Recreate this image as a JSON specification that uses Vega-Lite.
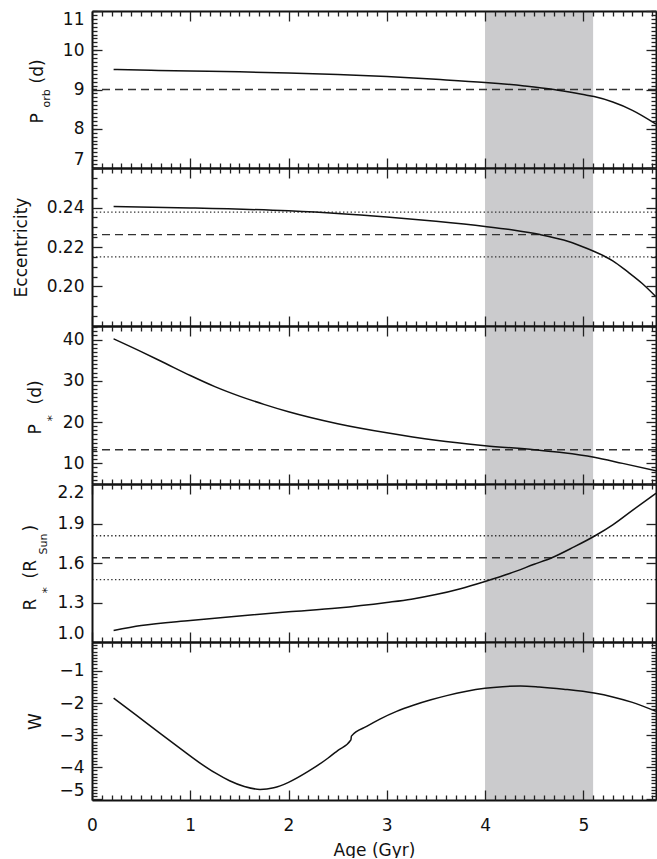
{
  "$schema": "https://vega.github.io/schema/vega-lite/v6.json",
  "padding": {"left": 12, "top": 10, "right": 0, "bottom": 0},
  "bounds": "flush",
  "spacing": 0,
  "config": {
    "view": {"stroke": null},
    "axis": {"grid": false, "labelFont": "DejaVu Sans", "labelFontSize": 17, "labelColor": "#111", "titleFont": "DejaVu Sans", "titleFontSize": 17, "titleFontWeight": "normal", "titleColor": "#111", "tickColor": "#222", "domainColor": "#111", "tickWidth": 1.3, "domainWidth": 2, "labelFlush": false}
  },
  "datasets": {
    "band": [{"s": 4.0, "e": 5.1}],
    "refs": [
      {"p": "porb", "v": 9.0, "k": "dash"},
      {"p": "ecc", "v": 0.2377, "k": "dot"},
      {"p": "ecc", "v": 0.2263, "k": "dash"},
      {"p": "ecc", "v": 0.215, "k": "dot"},
      {"p": "pstar", "v": 13.3, "k": "dash"},
      {"p": "rstar", "v": 1.807, "k": "dot"},
      {"p": "rstar", "v": 1.64, "k": "dash"},
      {"p": "rstar", "v": 1.473, "k": "dot"}
    ],
    "porb": [
      {"a": 0.22, "v": 9.51}, {"a": 0.6, "v": 9.49}, {"a": 1.0, "v": 9.47}, {"a": 1.5, "v": 9.45}, {"a": 2.0, "v": 9.42}, {"a": 2.5, "v": 9.38}, {"a": 3.0, "v": 9.33}, {"a": 3.5, "v": 9.26}, {"a": 4.0, "v": 9.18}, {"a": 4.4, "v": 9.09}, {"a": 4.7, "v": 9.0}, {"a": 5.0, "v": 8.87}, {"a": 5.11, "v": 8.82}, {"a": 5.3, "v": 8.68}, {"a": 5.5, "v": 8.47}, {"a": 5.74, "v": 8.12}
    ],
    "ecc": [
      {"a": 0.22, "v": 0.2405}, {"a": 1.0, "v": 0.2398}, {"a": 2.0, "v": 0.2383}, {"a": 2.5, "v": 0.237}, {"a": 3.0, "v": 0.2352}, {"a": 3.5, "v": 0.233}, {"a": 4.0, "v": 0.2304}, {"a": 4.3, "v": 0.2285}, {"a": 4.56, "v": 0.2263}, {"a": 4.8, "v": 0.2235}, {"a": 5.0, "v": 0.22}, {"a": 5.1, "v": 0.218}, {"a": 5.2, "v": 0.2157}, {"a": 5.3, "v": 0.213}, {"a": 5.45, "v": 0.2075}, {"a": 5.6, "v": 0.2015}, {"a": 5.74, "v": 0.1948}
    ],
    "pstar": [
      {"a": 0.22, "v": 40.2}, {"a": 0.5, "v": 37.1}, {"a": 0.75, "v": 34.2}, {"a": 1.0, "v": 31.3}, {"a": 1.25, "v": 28.6}, {"a": 1.5, "v": 26.3}, {"a": 1.75, "v": 24.3}, {"a": 2.0, "v": 22.5}, {"a": 2.5, "v": 19.6}, {"a": 3.0, "v": 17.4}, {"a": 3.5, "v": 15.6}, {"a": 4.0, "v": 14.3}, {"a": 4.5, "v": 13.3}, {"a": 4.8, "v": 12.6}, {"a": 5.11, "v": 11.5}, {"a": 5.4, "v": 10.0}, {"a": 5.74, "v": 8.2}
    ],
    "rstar": [
      {"a": 0.22, "v": 1.088}, {"a": 0.5, "v": 1.125}, {"a": 1.0, "v": 1.164}, {"a": 1.5, "v": 1.198}, {"a": 2.0, "v": 1.229}, {"a": 2.5, "v": 1.258}, {"a": 3.0, "v": 1.3}, {"a": 3.25, "v": 1.325}, {"a": 3.5, "v": 1.36}, {"a": 3.75, "v": 1.405}, {"a": 4.0, "v": 1.46}, {"a": 4.25, "v": 1.52}, {"a": 4.5, "v": 1.59}, {"a": 4.68, "v": 1.64}, {"a": 4.9, "v": 1.72}, {"a": 5.12, "v": 1.807}, {"a": 5.3, "v": 1.89}, {"a": 5.5, "v": 2.0}, {"a": 5.74, "v": 2.13}
    ],
    "w": [
      {"a": 0.22, "v": -1.85}, {"a": 0.45, "v": -2.38}, {"a": 0.69, "v": -2.94}, {"a": 0.9, "v": -3.42}, {"a": 1.1, "v": -3.87}, {"a": 1.25, "v": -4.17}, {"a": 1.4, "v": -4.42}, {"a": 1.55, "v": -4.6}, {"a": 1.71, "v": -4.69}, {"a": 1.85, "v": -4.64}, {"a": 2.0, "v": -4.47}, {"a": 2.2, "v": -4.13}, {"a": 2.4, "v": -3.72}, {"a": 2.5, "v": -3.48}, {"a": 2.635, "v": -3.15}, {"a": 2.64, "v": -3.03}, {"a": 2.8, "v": -2.72}, {"a": 2.93, "v": -2.5}, {"a": 3.1, "v": -2.26}, {"a": 3.27, "v": -2.07}, {"a": 3.45, "v": -1.9}, {"a": 3.61, "v": -1.77}, {"a": 3.8, "v": -1.64}, {"a": 4.0, "v": -1.54}, {"a": 4.18, "v": -1.49}, {"a": 4.36, "v": -1.47}, {"a": 4.55, "v": -1.5}, {"a": 4.8, "v": -1.57}, {"a": 5.11, "v": -1.69}, {"a": 5.3, "v": -1.81}, {"a": 5.5, "v": -1.98}, {"a": 5.74, "v": -2.26}
    ]
  },
  "vconcat": [
    {
      "width": 564, "height": 157,
      "data": {"name": "porb"},
      "resolve": {"axis": {"x": "independent", "y": "independent"}},
      "layer": [
        {"data": {"name": "band"}, "mark": {"type": "rect", "color": "#cbcbcd"},
         "encoding": {"x": {"field": "s", "type": "quantitative", "scale": {"domain": [0, 5.74], "nice": false, "zero": false}, "axis": {"orient": "bottom", "ticks": false, "labels": false, "domain": true, "title": null, "zindex": 2}}, "x2": {"field": "e"}}},
        {"data": {"name": "refs"}, "transform": [{"filter": "datum.p == 'porb'"}], "mark": {"type": "rule", "color": "#333", "strokeWidth": 1.3},
         "encoding": {"y": {"field": "v", "type": "quantitative", "scale": {"domain": [7, 11], "nice": false, "zero": false}, "axis": null}, "strokeDash": {"field": "k", "type": "nominal", "scale": {"domain": ["dash", "dot"], "range": [[8, 5], [1.4, 2.4]]}, "legend": null}}},
        {"mark": {"type": "line", "color": "#111", "strokeWidth": 1.5, "clip": true, "interpolate": "monotone"},
         "encoding": {"x": {"field": "a", "type": "quantitative", "scale": {"domain": [0, 5.74], "nice": false, "zero": false}, "axis": {"orient": "top", "ticks": false, "labels": false, "domain": true, "title": null, "zindex": 2}},
                      "y": {"field": "v", "type": "quantitative", "scale": {"domain": [7, 11], "nice": false, "zero": false}, "axis": {"orient": "left", "values": [7, 8, 9, 10, 11], "ticks": false, "tickSize": 0, "domain": true, "zindex": 2, "labelPadding": 8, "labelFlush": 3, "title": "P", "titleAngle": 270, "titleAlign": "left", "titleBaseline": "alphabetic", "titleX": -50, "titleY": 112}}}},
        {"mark": {"type": "line", "opacity": 0},
         "encoding": {"x": {"field": "a", "type": "quantitative", "axis": {"orient": "bottom", "offset": -10, "values": [0, 1, 2, 3, 4, 5], "labels": false, "tickSize": 10, "domain": false, "title": null, "zindex": 2}},
                      "y": {"field": "v", "type": "quantitative", "axis": {"orient": "left", "offset": -10, "values": [7, 8, 9, 10, 11], "labels": false, "tickSize": 10, "domain": false, "title": null, "zindex": 2}}}},
        {"mark": {"type": "line", "opacity": 0},
         "encoding": {"x": {"field": "a", "type": "quantitative", "axis": {"orient": "top", "offset": -10, "values": [0, 1, 2, 3, 4, 5], "labels": false, "tickSize": 10, "domain": false, "title": null, "zindex": 2}},
                      "y": {"field": "v", "type": "quantitative", "axis": {"orient": "left", "offset": -5, "values": [7, 7.1, 7.2, 7.3, 7.4, 7.5, 7.6, 7.7, 7.8, 7.9, 8, 8.1, 8.2, 8.3, 8.4, 8.5, 8.6, 8.7, 8.8, 8.9, 9, 9.1, 9.2, 9.3, 9.4, 9.5, 9.6, 9.7, 9.8, 9.9, 10, 10.1, 10.2, 10.3, 10.4, 10.5, 10.6, 10.7, 10.8, 10.9, 11], "labels": false, "tickSize": 5, "domain": false, "title": null, "zindex": 2}}}},
        {"mark": {"type": "line", "opacity": 0},
         "encoding": {"x": {"field": "a", "type": "quantitative", "axis": {"orient": "bottom", "offset": -5, "values": [0.1, 0.2, 0.3, 0.4, 0.5, 0.6, 0.7, 0.8, 0.9, 1.1, 1.2, 1.3, 1.4, 1.5, 1.6, 1.7, 1.8, 1.9, 2.1, 2.2, 2.3, 2.4, 2.5, 2.6, 2.7, 2.8, 2.9, 3.1, 3.2, 3.3, 3.4, 3.5, 3.6, 3.7, 3.8, 3.9, 4.1, 4.2, 4.3, 4.4, 4.5, 4.6, 4.7, 4.8, 4.9, 5.1, 5.2, 5.3, 5.4, 5.5, 5.6, 5.7], "labels": false, "tickSize": 5, "domain": false, "title": null, "zindex": 2}},
                      "y": {"field": "v", "type": "quantitative", "axis": {"orient": "right", "ticks": false, "labels": false, "domain": true, "title": null, "zindex": 2}}}},
        {"mark": {"type": "line", "opacity": 0},
         "encoding": {"x": {"field": "a", "type": "quantitative", "axis": {"orient": "top", "offset": -5, "values": [0.1, 0.2, 0.3, 0.4, 0.5, 0.6, 0.7, 0.8, 0.9, 1.1, 1.2, 1.3, 1.4, 1.5, 1.6, 1.7, 1.8, 1.9, 2.1, 2.2, 2.3, 2.4, 2.5, 2.6, 2.7, 2.8, 2.9, 3.1, 3.2, 3.3, 3.4, 3.5, 3.6, 3.7, 3.8, 3.9, 4.1, 4.2, 4.3, 4.4, 4.5, 4.6, 4.7, 4.8, 4.9, 5.1, 5.2, 5.3, 5.4, 5.5, 5.6, 5.7], "labels": false, "tickSize": 5, "domain": false, "title": null, "zindex": 2}},
                      "y": {"field": "v", "type": "quantitative", "axis": {"orient": "right", "offset": -10, "values": [7, 8, 9, 10, 11], "labels": false, "tickSize": 10, "domain": false, "title": null, "zindex": 2}}}},
        {"mark": {"type": "line", "opacity": 0},
         "encoding": {"x": {"field": "a", "type": "quantitative", "axis": null},
                      "y": {"field": "v", "type": "quantitative", "axis": {"orient": "right", "offset": -5, "values": [7, 7.1, 7.2, 7.3, 7.4, 7.5, 7.6, 7.7, 7.8, 7.9, 8, 8.1, 8.2, 8.3, 8.4, 8.5, 8.6, 8.7, 8.8, 8.9, 9, 9.1, 9.2, 9.3, 9.4, 9.5, 9.6, 9.7, 9.8, 9.9, 10, 10.1, 10.2, 10.3, 10.4, 10.5, 10.6, 10.7, 10.8, 10.9, 11], "labels": false, "tickSize": 5, "domain": false, "title": null, "zindex": 2}}}},
        {"mark": {"type": "line", "opacity": 0},
         "encoding": {"x": {"field": "a", "type": "quantitative", "axis": null},
                      "y": {"field": "v", "type": "quantitative", "axis": {"orient": "left", "ticks": false, "labels": false, "domain": false, "title": "orb", "titleFontSize": 11, "titleAngle": 270, "titleAlign": "left", "titleBaseline": "alphabetic", "titleX": -43, "titleY": 96}}}},
        {"mark": {"type": "line", "opacity": 0},
         "encoding": {"x": {"field": "a", "type": "quantitative", "axis": null},
                      "y": {"field": "v", "type": "quantitative", "axis": {"orient": "left", "ticks": false, "labels": false, "domain": false, "title": "(d)", "titleAngle": 270, "titleAlign": "left", "titleBaseline": "alphabetic", "titleX": -50, "titleY": 72}}}}
      ]
    },
    {
      "width": 564, "height": 158,
      "data": {"name": "ecc"},
      "resolve": {"axis": {"x": "independent", "y": "independent"}},
      "layer": [
        {"data": {"name": "band"}, "mark": {"type": "rect", "color": "#cbcbcd"},
         "encoding": {"x": {"field": "s", "type": "quantitative", "scale": {"domain": [0, 5.74], "nice": false, "zero": false}, "axis": {"orient": "bottom", "ticks": false, "labels": false, "domain": true, "title": null, "zindex": 2}}, "x2": {"field": "e"}}},
        {"data": {"name": "refs"}, "transform": [{"filter": "datum.p == 'ecc'"}], "mark": {"type": "rule", "color": "#333", "strokeWidth": 1.3},
         "encoding": {"y": {"field": "v", "type": "quantitative", "scale": {"domain": [0.18, 0.26], "nice": false, "zero": false}, "axis": null}, "strokeDash": {"field": "k", "type": "nominal", "scale": {"domain": ["dash", "dot"], "range": [[8, 5], [1.4, 2.4]]}, "legend": null}}},
        {"mark": {"type": "line", "color": "#111", "strokeWidth": 1.5, "clip": true, "interpolate": "monotone"},
         "encoding": {"x": {"field": "a", "type": "quantitative", "scale": {"domain": [0, 5.74], "nice": false, "zero": false}, "axis": {"orient": "top", "ticks": false, "labels": false, "domain": true, "title": null, "zindex": 2}},
                      "y": {"field": "v", "type": "quantitative", "scale": {"domain": [0.18, 0.26], "nice": false, "zero": false}, "axis": {"orient": "left", "values": [0.2, 0.22, 0.24], "format": ".2f", "ticks": false, "tickSize": 0, "domain": true, "zindex": 2, "labelPadding": 8, "title": "Eccentricity", "titleAngle": 270, "titleAlign": "center", "titleBaseline": "alphabetic", "titleX": -66, "titleY": 79}}}},
        {"mark": {"type": "line", "opacity": 0},
         "encoding": {"x": {"field": "a", "type": "quantitative", "axis": {"orient": "bottom", "offset": -10, "values": [0, 1, 2, 3, 4, 5], "labels": false, "tickSize": 10, "domain": false, "title": null, "zindex": 2}},
                      "y": {"field": "v", "type": "quantitative", "axis": {"orient": "left", "offset": -10, "values": [0.18, 0.2, 0.22, 0.24, 0.26], "labels": false, "tickSize": 10, "domain": false, "title": null, "zindex": 2}}}},
        {"mark": {"type": "line", "opacity": 0},
         "encoding": {"x": {"field": "a", "type": "quantitative", "axis": {"orient": "top", "offset": -10, "values": [0, 1, 2, 3, 4, 5], "labels": false, "tickSize": 10, "domain": false, "title": null, "zindex": 2}},
                      "y": {"field": "v", "type": "quantitative", "axis": {"orient": "left", "offset": -5, "values": [0.185, 0.19, 0.195, 0.205, 0.21, 0.215, 0.225, 0.23, 0.235, 0.245, 0.25, 0.255], "labels": false, "tickSize": 5, "domain": false, "title": null, "zindex": 2}}}},
        {"mark": {"type": "line", "opacity": 0},
         "encoding": {"x": {"field": "a", "type": "quantitative", "axis": {"orient": "bottom", "offset": -5, "values": [0.1, 0.2, 0.3, 0.4, 0.5, 0.6, 0.7, 0.8, 0.9, 1.1, 1.2, 1.3, 1.4, 1.5, 1.6, 1.7, 1.8, 1.9, 2.1, 2.2, 2.3, 2.4, 2.5, 2.6, 2.7, 2.8, 2.9, 3.1, 3.2, 3.3, 3.4, 3.5, 3.6, 3.7, 3.8, 3.9, 4.1, 4.2, 4.3, 4.4, 4.5, 4.6, 4.7, 4.8, 4.9, 5.1, 5.2, 5.3, 5.4, 5.5, 5.6, 5.7], "labels": false, "tickSize": 5, "domain": false, "title": null, "zindex": 2}},
                      "y": {"field": "v", "type": "quantitative", "axis": {"orient": "right", "ticks": false, "labels": false, "domain": true, "title": null, "zindex": 2}}}},
        {"mark": {"type": "line", "opacity": 0},
         "encoding": {"x": {"field": "a", "type": "quantitative", "axis": {"orient": "top", "offset": -5, "values": [0.1, 0.2, 0.3, 0.4, 0.5, 0.6, 0.7, 0.8, 0.9, 1.1, 1.2, 1.3, 1.4, 1.5, 1.6, 1.7, 1.8, 1.9, 2.1, 2.2, 2.3, 2.4, 2.5, 2.6, 2.7, 2.8, 2.9, 3.1, 3.2, 3.3, 3.4, 3.5, 3.6, 3.7, 3.8, 3.9, 4.1, 4.2, 4.3, 4.4, 4.5, 4.6, 4.7, 4.8, 4.9, 5.1, 5.2, 5.3, 5.4, 5.5, 5.6, 5.7], "labels": false, "tickSize": 5, "domain": false, "title": null, "zindex": 2}},
                      "y": {"field": "v", "type": "quantitative", "axis": {"orient": "right", "offset": -10, "values": [0.18, 0.2, 0.22, 0.24, 0.26], "labels": false, "tickSize": 10, "domain": false, "title": null, "zindex": 2}}}},
        {"mark": {"type": "line", "opacity": 0},
         "encoding": {"x": {"field": "a", "type": "quantitative", "axis": null},
                      "y": {"field": "v", "type": "quantitative", "axis": {"orient": "right", "offset": -5, "values": [0.185, 0.19, 0.195, 0.205, 0.21, 0.215, 0.225, 0.23, 0.235, 0.245, 0.25, 0.255], "labels": false, "tickSize": 5, "domain": false, "title": null, "zindex": 2}}}}
      ]
    },
    {
      "width": 564, "height": 158,
      "data": {"name": "pstar"},
      "resolve": {"axis": {"x": "independent", "y": "independent"}},
      "layer": [
        {"data": {"name": "band"}, "mark": {"type": "rect", "color": "#cbcbcd"},
         "encoding": {"x": {"field": "s", "type": "quantitative", "scale": {"domain": [0, 5.74], "nice": false, "zero": false}, "axis": {"orient": "bottom", "ticks": false, "labels": false, "domain": true, "title": null, "zindex": 2}}, "x2": {"field": "e"}}},
        {"data": {"name": "refs"}, "transform": [{"filter": "datum.p == 'pstar'"}], "mark": {"type": "rule", "color": "#333", "strokeWidth": 1.3},
         "encoding": {"y": {"field": "v", "type": "quantitative", "scale": {"domain": [5, 43.3], "nice": false, "zero": false}, "axis": null}, "strokeDash": {"field": "k", "type": "nominal", "scale": {"domain": ["dash", "dot"], "range": [[8, 5], [1.4, 2.4]]}, "legend": null}}},
        {"mark": {"type": "line", "color": "#111", "strokeWidth": 1.5, "clip": true, "interpolate": "monotone"},
         "encoding": {"x": {"field": "a", "type": "quantitative", "scale": {"domain": [0, 5.74], "nice": false, "zero": false}, "axis": {"orient": "top", "ticks": false, "labels": false, "domain": true, "title": null, "zindex": 2}},
                      "y": {"field": "v", "type": "quantitative", "scale": {"domain": [5, 43.3], "nice": false, "zero": false}, "axis": {"orient": "left", "values": [10, 20, 30, 40], "ticks": false, "tickSize": 0, "domain": true, "zindex": 2, "labelPadding": 8, "title": "P", "titleAngle": 270, "titleAlign": "left", "titleBaseline": "alphabetic", "titleX": -52, "titleY": 108}}}},
        {"mark": {"type": "line", "opacity": 0},
         "encoding": {"x": {"field": "a", "type": "quantitative", "axis": {"orient": "bottom", "offset": -10, "values": [0, 1, 2, 3, 4, 5], "labels": false, "tickSize": 10, "domain": false, "title": null, "zindex": 2}},
                      "y": {"field": "v", "type": "quantitative", "axis": {"orient": "left", "offset": -10, "values": [10, 20, 30, 40], "labels": false, "tickSize": 10, "domain": false, "title": null, "zindex": 2}}}},
        {"mark": {"type": "line", "opacity": 0},
         "encoding": {"x": {"field": "a", "type": "quantitative", "axis": {"orient": "top", "offset": -10, "values": [0, 1, 2, 3, 4, 5], "labels": false, "tickSize": 10, "domain": false, "title": null, "zindex": 2}},
                      "y": {"field": "v", "type": "quantitative", "axis": {"orient": "left", "offset": -5, "values": [5, 6, 7, 8, 9, 11, 12, 13, 14, 15, 16, 17, 18, 19, 21, 22, 23, 24, 25, 26, 27, 28, 29, 31, 32, 33, 34, 35, 36, 37, 38, 39, 41, 42, 43], "labels": false, "tickSize": 5, "domain": false, "title": null, "zindex": 2}}}},
        {"mark": {"type": "line", "opacity": 0},
         "encoding": {"x": {"field": "a", "type": "quantitative", "axis": {"orient": "bottom", "offset": -5, "values": [0.1, 0.2, 0.3, 0.4, 0.5, 0.6, 0.7, 0.8, 0.9, 1.1, 1.2, 1.3, 1.4, 1.5, 1.6, 1.7, 1.8, 1.9, 2.1, 2.2, 2.3, 2.4, 2.5, 2.6, 2.7, 2.8, 2.9, 3.1, 3.2, 3.3, 3.4, 3.5, 3.6, 3.7, 3.8, 3.9, 4.1, 4.2, 4.3, 4.4, 4.5, 4.6, 4.7, 4.8, 4.9, 5.1, 5.2, 5.3, 5.4, 5.5, 5.6, 5.7], "labels": false, "tickSize": 5, "domain": false, "title": null, "zindex": 2}},
                      "y": {"field": "v", "type": "quantitative", "axis": {"orient": "right", "ticks": false, "labels": false, "domain": true, "title": null, "zindex": 2}}}},
        {"mark": {"type": "line", "opacity": 0},
         "encoding": {"x": {"field": "a", "type": "quantitative", "axis": {"orient": "top", "offset": -5, "values": [0.1, 0.2, 0.3, 0.4, 0.5, 0.6, 0.7, 0.8, 0.9, 1.1, 1.2, 1.3, 1.4, 1.5, 1.6, 1.7, 1.8, 1.9, 2.1, 2.2, 2.3, 2.4, 2.5, 2.6, 2.7, 2.8, 2.9, 3.1, 3.2, 3.3, 3.4, 3.5, 3.6, 3.7, 3.8, 3.9, 4.1, 4.2, 4.3, 4.4, 4.5, 4.6, 4.7, 4.8, 4.9, 5.1, 5.2, 5.3, 5.4, 5.5, 5.6, 5.7], "labels": false, "tickSize": 5, "domain": false, "title": null, "zindex": 2}},
                      "y": {"field": "v", "type": "quantitative", "axis": {"orient": "right", "offset": -10, "values": [10, 20, 30, 40], "labels": false, "tickSize": 10, "domain": false, "title": null, "zindex": 2}}}},
        {"mark": {"type": "line", "opacity": 0},
         "encoding": {"x": {"field": "a", "type": "quantitative", "axis": null},
                      "y": {"field": "v", "type": "quantitative", "axis": {"orient": "right", "offset": -5, "values": [5, 6, 7, 8, 9, 11, 12, 13, 14, 15, 16, 17, 18, 19, 21, 22, 23, 24, 25, 26, 27, 28, 29, 31, 32, 33, 34, 35, 36, 37, 38, 39, 41, 42, 43], "labels": false, "tickSize": 5, "domain": false, "title": null, "zindex": 2}}}},
        {"mark": {"type": "line", "opacity": 0},
         "encoding": {"x": {"field": "a", "type": "quantitative", "axis": null},
                      "y": {"field": "v", "type": "quantitative", "axis": {"orient": "left", "ticks": false, "labels": false, "domain": false, "title": "*", "titleFontSize": 13, "titleAngle": 270, "titleAlign": "left", "titleBaseline": "alphabetic", "titleX": -37, "titleY": 95}}}},
        {"mark": {"type": "line", "opacity": 0},
         "encoding": {"x": {"field": "a", "type": "quantitative", "axis": null},
                      "y": {"field": "v", "type": "quantitative", "axis": {"orient": "left", "ticks": false, "labels": false, "domain": false, "title": "(d)", "titleAngle": 270, "titleAlign": "left", "titleBaseline": "alphabetic", "titleX": -52, "titleY": 78}}}}
      ]
    },
    {
      "width": 564, "height": 158,
      "data": {"name": "rstar"},
      "resolve": {"axis": {"x": "independent", "y": "independent"}},
      "layer": [
        {"data": {"name": "band"}, "mark": {"type": "rect", "color": "#cbcbcd"},
         "encoding": {"x": {"field": "s", "type": "quantitative", "scale": {"domain": [0, 5.74], "nice": false, "zero": false}, "axis": {"orient": "bottom", "ticks": false, "labels": false, "domain": true, "title": null, "zindex": 2}}, "x2": {"field": "e"}}},
        {"data": {"name": "refs"}, "transform": [{"filter": "datum.p == 'rstar'"}], "mark": {"type": "rule", "color": "#333", "strokeWidth": 1.3},
         "encoding": {"y": {"field": "v", "type": "quantitative", "scale": {"domain": [1.0, 2.2], "nice": false, "zero": false}, "axis": {"orient": "left", "ticks": false, "labels": false, "domain": false, "title": ")", "titleAngle": 270, "titleAlign": "left", "titleBaseline": "alphabetic", "titleX": -57, "titleY": 47}}, "strokeDash": {"field": "k", "type": "nominal", "scale": {"domain": ["dash", "dot"], "range": [[8, 5], [1.4, 2.4]]}, "legend": null}}},
        {"mark": {"type": "line", "color": "#111", "strokeWidth": 1.5, "clip": true, "interpolate": "monotone"},
         "encoding": {"x": {"field": "a", "type": "quantitative", "scale": {"domain": [0, 5.74], "nice": false, "zero": false}, "axis": {"orient": "top", "ticks": false, "labels": false, "domain": true, "title": null, "zindex": 2}},
                      "y": {"field": "v", "type": "quantitative", "scale": {"domain": [1.0, 2.2], "nice": false, "zero": false}, "axis": {"orient": "left", "values": [1.0, 1.3, 1.6, 1.9, 2.2], "format": ".1f", "ticks": false, "tickSize": 0, "domain": true, "zindex": 2, "labelPadding": 8, "labelFlush": 3, "title": "R", "titleAngle": 270, "titleAlign": "left", "titleBaseline": "alphabetic", "titleX": -57, "titleY": 126}}}},
        {"mark": {"type": "line", "opacity": 0},
         "encoding": {"x": {"field": "a", "type": "quantitative", "axis": {"orient": "bottom", "offset": -10, "values": [0, 1, 2, 3, 4, 5], "labels": false, "tickSize": 10, "domain": false, "title": null, "zindex": 2}},
                      "y": {"field": "v", "type": "quantitative", "axis": {"orient": "left", "offset": -10, "values": [1.0, 1.3, 1.6, 1.9, 2.2], "labels": false, "tickSize": 10, "domain": false, "title": null, "zindex": 2}}}},
        {"mark": {"type": "line", "opacity": 0},
         "encoding": {"x": {"field": "a", "type": "quantitative", "axis": {"orient": "top", "offset": -10, "values": [0, 1, 2, 3, 4, 5], "labels": false, "tickSize": 10, "domain": false, "title": null, "zindex": 2}},
                      "y": {"field": "v", "type": "quantitative", "axis": {"orient": "left", "ticks": false, "labels": false, "domain": false, "title": "(R", "titleAngle": 270, "titleAlign": "left", "titleBaseline": "alphabetic", "titleX": -57, "titleY": 94}}}},
        {"mark": {"type": "line", "opacity": 0},
         "encoding": {"x": {"field": "a", "type": "quantitative", "axis": {"orient": "bottom", "offset": -5, "values": [0.1, 0.2, 0.3, 0.4, 0.5, 0.6, 0.7, 0.8, 0.9, 1.1, 1.2, 1.3, 1.4, 1.5, 1.6, 1.7, 1.8, 1.9, 2.1, 2.2, 2.3, 2.4, 2.5, 2.6, 2.7, 2.8, 2.9, 3.1, 3.2, 3.3, 3.4, 3.5, 3.6, 3.7, 3.8, 3.9, 4.1, 4.2, 4.3, 4.4, 4.5, 4.6, 4.7, 4.8, 4.9, 5.1, 5.2, 5.3, 5.4, 5.5, 5.6, 5.7], "labels": false, "tickSize": 5, "domain": false, "title": null, "zindex": 2}},
                      "y": {"field": "v", "type": "quantitative", "axis": {"orient": "right", "ticks": false, "labels": false, "domain": true, "title": null, "zindex": 2}}}},
        {"mark": {"type": "line", "opacity": 0},
         "encoding": {"x": {"field": "a", "type": "quantitative", "axis": {"orient": "top", "offset": -5, "values": [0.1, 0.2, 0.3, 0.4, 0.5, 0.6, 0.7, 0.8, 0.9, 1.1, 1.2, 1.3, 1.4, 1.5, 1.6, 1.7, 1.8, 1.9, 2.1, 2.2, 2.3, 2.4, 2.5, 2.6, 2.7, 2.8, 2.9, 3.1, 3.2, 3.3, 3.4, 3.5, 3.6, 3.7, 3.8, 3.9, 4.1, 4.2, 4.3, 4.4, 4.5, 4.6, 4.7, 4.8, 4.9, 5.1, 5.2, 5.3, 5.4, 5.5, 5.6, 5.7], "labels": false, "tickSize": 5, "domain": false, "title": null, "zindex": 2}},
                      "y": {"field": "v", "type": "quantitative", "axis": {"orient": "right", "offset": -10, "values": [1.0, 1.3, 1.6, 1.9, 2.2], "labels": false, "tickSize": 10, "domain": false, "title": null, "zindex": 2}}}},
        {"mark": {"type": "line", "opacity": 0},
         "encoding": {"x": {"field": "a", "type": "quantitative", "axis": null},
                      "y": {"field": "v", "type": "quantitative", "axis": {"orient": "left", "ticks": false, "labels": false, "domain": false, "title": "Sun", "titleFontSize": 11, "titleAngle": 270, "titleAlign": "left", "titleBaseline": "alphabetic", "titleX": -46, "titleY": 70}}}},
        {"mark": {"type": "line", "opacity": 0},
         "encoding": {"x": {"field": "a", "type": "quantitative", "axis": null},
                      "y": {"field": "v", "type": "quantitative", "axis": {"orient": "left", "ticks": false, "labels": false, "domain": false, "title": "*", "titleFontSize": 13, "titleAngle": 270, "titleAlign": "left", "titleBaseline": "alphabetic", "titleX": -42, "titleY": 109}}}}
      ]
    },
    {
      "width": 564, "height": 158,
      "data": {"name": "w"},
      "resolve": {"axis": {"x": "independent", "y": "independent"}},
      "layer": [
        {"data": {"name": "band"}, "mark": {"type": "rect", "color": "#cbcbcd"},
         "encoding": {"x": {"field": "s", "type": "quantitative", "scale": {"domain": [0, 5.74], "nice": false, "zero": false}, "axis": {"orient": "bottom", "values": [0, 1, 2, 3, 4, 5], "ticks": false, "tickSize": 0, "domain": true, "zindex": 2, "labelPadding": 17, "labelFlush": false, "title": "Age (Gyr)", "titlePadding": 9}}, "x2": {"field": "e"}}},
        {"mark": {"type": "line", "color": "#111", "strokeWidth": 1.5, "clip": true, "interpolate": "monotone"},
         "encoding": {"x": {"field": "a", "type": "quantitative", "scale": {"domain": [0, 5.74], "nice": false, "zero": false}, "axis": {"orient": "top", "ticks": false, "labels": false, "domain": true, "title": null, "zindex": 2}},
                      "y": {"field": "v", "type": "quantitative", "scale": {"domain": [-5.02, -0.1], "nice": false, "zero": false}, "axis": {"orient": "left", "values": [-5, -4, -3, -2, -1], "ticks": false, "tickSize": 0, "domain": true, "zindex": 2, "labelPadding": 8, "labelFlush": 3, "title": "W", "titleAngle": 270, "titleAlign": "center", "titleBaseline": "alphabetic", "titleX": -52, "titleY": 79}}}},
        {"mark": {"type": "line", "opacity": 0},
         "encoding": {"x": {"field": "a", "type": "quantitative", "axis": {"orient": "bottom", "offset": -10, "values": [0, 1, 2, 3, 4, 5], "labels": false, "tickSize": 10, "domain": false, "title": null, "zindex": 2}},
                      "y": {"field": "v", "type": "quantitative", "axis": {"orient": "left", "offset": -10, "values": [-5, -4, -3, -2, -1], "labels": false, "tickSize": 10, "domain": false, "title": null, "zindex": 2}}}},
        {"mark": {"type": "line", "opacity": 0},
         "encoding": {"x": {"field": "a", "type": "quantitative", "axis": {"orient": "top", "offset": -10, "values": [0, 1, 2, 3, 4, 5], "labels": false, "tickSize": 10, "domain": false, "title": null, "zindex": 2}},
                      "y": {"field": "v", "type": "quantitative", "axis": {"orient": "left", "offset": -5, "values": [-4.9, -4.8, -4.7, -4.6, -4.5, -4.4, -4.3, -4.2, -4.1, -3.9, -3.8, -3.7, -3.6, -3.5, -3.4, -3.3, -3.2, -3.1, -2.9, -2.8, -2.7, -2.6, -2.5, -2.4, -2.3, -2.2, -2.1, -1.9, -1.8, -1.7, -1.6, -1.5, -1.4, -1.3, -1.2, -1.1, -0.9, -0.8, -0.7, -0.6, -0.5, -0.4, -0.3, -0.2], "labels": false, "tickSize": 5, "domain": false, "title": null, "zindex": 2}}}},
        {"mark": {"type": "line", "opacity": 0},
         "encoding": {"x": {"field": "a", "type": "quantitative", "axis": {"orient": "bottom", "offset": -5, "values": [0.1, 0.2, 0.3, 0.4, 0.5, 0.6, 0.7, 0.8, 0.9, 1.1, 1.2, 1.3, 1.4, 1.5, 1.6, 1.7, 1.8, 1.9, 2.1, 2.2, 2.3, 2.4, 2.5, 2.6, 2.7, 2.8, 2.9, 3.1, 3.2, 3.3, 3.4, 3.5, 3.6, 3.7, 3.8, 3.9, 4.1, 4.2, 4.3, 4.4, 4.5, 4.6, 4.7, 4.8, 4.9, 5.1, 5.2, 5.3, 5.4, 5.5, 5.6, 5.7], "labels": false, "tickSize": 5, "domain": false, "title": null, "zindex": 2}},
                      "y": {"field": "v", "type": "quantitative", "axis": {"orient": "right", "ticks": false, "labels": false, "domain": true, "title": null, "zindex": 2}}}},
        {"mark": {"type": "line", "opacity": 0},
         "encoding": {"x": {"field": "a", "type": "quantitative", "axis": {"orient": "top", "offset": -5, "values": [0.1, 0.2, 0.3, 0.4, 0.5, 0.6, 0.7, 0.8, 0.9, 1.1, 1.2, 1.3, 1.4, 1.5, 1.6, 1.7, 1.8, 1.9, 2.1, 2.2, 2.3, 2.4, 2.5, 2.6, 2.7, 2.8, 2.9, 3.1, 3.2, 3.3, 3.4, 3.5, 3.6, 3.7, 3.8, 3.9, 4.1, 4.2, 4.3, 4.4, 4.5, 4.6, 4.7, 4.8, 4.9, 5.1, 5.2, 5.3, 5.4, 5.5, 5.6, 5.7], "labels": false, "tickSize": 5, "domain": false, "title": null, "zindex": 2}},
                      "y": {"field": "v", "type": "quantitative", "axis": {"orient": "right", "offset": -10, "values": [-5, -4, -3, -2, -1], "labels": false, "tickSize": 10, "domain": false, "title": null, "zindex": 2}}}},
        {"mark": {"type": "line", "opacity": 0},
         "encoding": {"x": {"field": "a", "type": "quantitative", "axis": null},
                      "y": {"field": "v", "type": "quantitative", "axis": {"orient": "right", "offset": -5, "values": [-4.9, -4.8, -4.7, -4.6, -4.5, -4.4, -4.3, -4.2, -4.1, -3.9, -3.8, -3.7, -3.6, -3.5, -3.4, -3.3, -3.2, -3.1, -2.9, -2.8, -2.7, -2.6, -2.5, -2.4, -2.3, -2.2, -2.1, -1.9, -1.8, -1.7, -1.6, -1.5, -1.4, -1.3, -1.2, -1.1, -0.9, -0.8, -0.7, -0.6, -0.5, -0.4, -0.3, -0.2], "labels": false, "tickSize": 5, "domain": false, "title": null, "zindex": 2}}}}
      ]
    }
  ]
}
